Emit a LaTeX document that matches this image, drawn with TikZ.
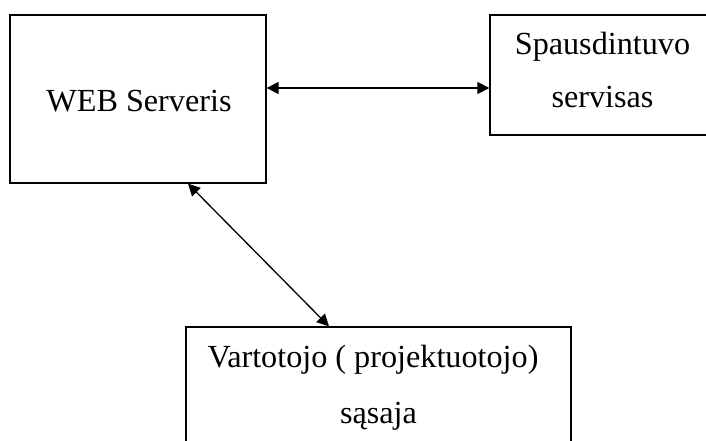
\documentclass[tikz,border=0pt]{standalone}
\usepackage{fontspec}
\setmainfont{Liberation Serif}
\usetikzlibrary{arrows.meta}
\begin{document}
\begin{tikzpicture}[x=1pt,y=-1pt,
  box/.style={draw, line width=1.3pt, inner sep=0pt},
  lbl/.style={font=\fontsize{32.2}{36}\selectfont, inner sep=0pt, anchor=base},
  link/.style={line width=1.3pt,
    {Triangle[length=12pt,width=12pt]}-{Triangle[length=12pt,width=12pt]}}]
\useasboundingbox (0,0) rectangle (706,441);
% boxes
\node[box, minimum width=256pt, minimum height=168pt] (web) at (138,99) {};
\node[box, minimum width=227pt, minimum height=120pt] (spaus) at (603.5,75) {};
\node[box, minimum width=385pt, minimum height=153pt] (user) at (378.5,403.5) {};
% labels
\node[lbl] (webtxt) at (139,112) {WEB Serveris};
\node[lbl] (spausA) at (602.5,55) {Spausdintuvo};
\node[lbl] (spausB) at (602.5,108) {servisas};
\node[lbl] (userA) at (373,367) {Vartotojo ( projektuotojo)};
\node[lbl] (userB) at (378.5,423) {sąsaja};
% connectors
\draw[link] ([yshift=11pt]web.east) -- ([yshift=-13pt]spaus.west);
\draw[link] ([xshift=50pt]web.south) -- ([xshift=-49.5pt]user.north);
\end{tikzpicture}
\end{document}
